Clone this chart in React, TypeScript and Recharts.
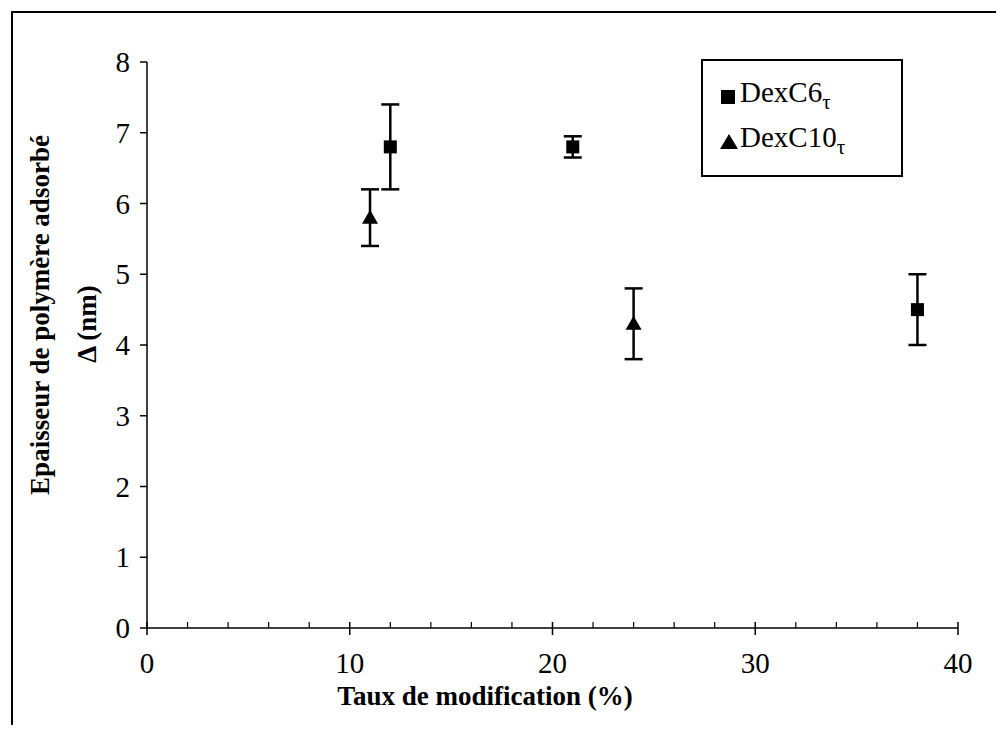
import React from "react";
import {
  ScatterChart,
  Scatter,
  XAxis,
  YAxis,
  ErrorBar,
  Label,
} from "recharts";

// DexC6τ series
const c6Rate = [12, 21, 38];
const c6Thick = [6.8, 6.8, 4.5];
const c6Err = [0.6, 0.15, 0.5];

// DexC10τ series
const c10Rate = [11, 24];
const c10Thick = [5.8, 4.3];
const c10Err = [0.4, 0.5];

const seriesNames = ["DexC6", "DexC10"];

const xTicks = [0, 2, 4, 6, 8, 10, 12, 14, 16, 18, 20, 22, 24, 26, 28, 30, 32, 34, 36, 38, 40];
const yTicks = [0, 1, 2, 3, 4, 5, 6, 7, 8];

const c6Data = c6Rate.map((x, i) => ({ x, y: c6Thick[i], err: c6Err[i] }));
const c10Data = c10Rate.map((x, i) => ({ x, y: c10Thick[i], err: c10Err[i] }));

const FONT = '"Times New Roman", "Liberation Serif", Times, "DejaVu Serif", serif';

const SquareDot = (props: any) => {
  const { cx, cy } = props;
  return <rect x={cx - 6.5} y={cy - 6.5} width={13} height={13} fill="#000" />;
};

const TriangleDot = (props: any) => {
  const { cx, cy } = props;
  return <path d={`M${cx},${cy - 8} L${cx + 8},${cy + 6} L${cx - 8},${cy + 6} Z`} fill="#000" />;
};

const XTick = (props: any) => {
  const { x, y, payload } = props;
  const v = payload.value;
  const major = v % 10 === 0;
  return (
    <g>
      {major ? (
        <line x1={x} x2={x} y1={y - 6} y2={y + 7} stroke="#000" strokeWidth={1.5} />
      ) : (
        <line x1={x} x2={x} y1={y} y2={y - 6} stroke="#000" strokeWidth={1.2} />
      )}
      {major && (
        <text x={x} y={y + 45} textAnchor="middle" fontFamily={FONT} fontSize={29} fill="#000">
          {v}
        </text>
      )}
    </g>
  );
};

const YTick = (props: any) => {
  const { x, y, payload } = props;
  return (
    <g>
      <line x1={x - 7} x2={x} y1={y} y2={y} stroke="#000" strokeWidth={1.5} />
      <text x={x - 17} y={y + 10} textAnchor="end" fontFamily={FONT} fontSize={29} fill="#000">
        {payload.value}
      </text>
    </g>
  );
};

const YTitle = () => (
  <g fontFamily={FONT} fontWeight="bold" fontSize={27} fill="#000">
    <text x={0} y={0} textAnchor="middle" transform="translate(49,315) rotate(-90)">
      Epaisseur de polymère adsorbé
    </text>
    <text x={0} y={0} textAnchor="middle" transform="translate(96,324) rotate(-90)">
      Δ (nm)
    </text>
  </g>
);

const XTitle = () => (
  <text x={485} y={705} textAnchor="middle" fontFamily={FONT} fontWeight="bold" fontSize={27} fill="#000">
    Taux de modification (%)
  </text>
);

const LegendBox = () => (
  <div
    style={{
      position: "absolute",
      left: 701,
      top: 59,
      width: 198,
      height: 114,
      border: "2px solid #000",
      background: "#fff",
      fontFamily: FONT,
      fontSize: 29,
      color: "#000",
    }}
  >
    {seriesNames.map((name, i) => (
      <div
        key={name}
        style={{ position: "absolute", left: 16, top: i === 0 ? 14 : 59, display: "flex", alignItems: "center", lineHeight: "34px", whiteSpace: "nowrap" }}
      >
        <svg width={20} height={20} style={{ marginRight: 1 }}>
          {i === 0 ? (
            <rect x={2} y={3} width={14} height={14} fill="#000" />
          ) : (
            <path d="M10,2 L19,17 L1,17 Z" fill="#000" />
          )}
        </svg>
        <span>
          {name}
          <sub style={{ fontSize: 21 }}>τ</sub>
        </span>
      </div>
    ))}
  </div>
);

export default function App() {
  return (
    <div style={{ position: "relative", width: 1004, height: 733, margin: -8, background: "#fff", overflow: "hidden" }}>
      <div
        style={{
          position: "absolute",
          left: 11,
          top: 11,
          width: 985,
          height: 730,
          border: "2px solid #000",
          borderBottom: "none",
        }}
      />
      <div style={{ position: "absolute", left: 0, top: 0 }}>
        <ScatterChart width={1004} height={733} margin={{ top: 62, right: 46, bottom: 0, left: 0 }}>
          <XAxis
            type="number"
            dataKey="x"
            domain={[0, 40]}
            ticks={xTicks}
            interval={0}
            tick={<XTick />}
            tickLine={false}
            tickSize={0}
            tickMargin={0}
            height={105}
            axisLine={{ stroke: "#000", strokeWidth: 1.5 }}
          >
            <Label content={<XTitle />} />
          </XAxis>
          <YAxis
            type="number"
            dataKey="y"
            domain={[0, 8]}
            ticks={yTicks}
            interval={0}
            tick={<YTick />}
            tickLine={false}
            tickSize={0}
            tickMargin={0}
            width={147}
            axisLine={{ stroke: "#000", strokeWidth: 1.5 }}
          >
            <Label content={<YTitle />} />
          </YAxis>
          <Scatter name="DexC6τ" data={c6Data} fill="#000" shape={<SquareDot />} isAnimationActive={false}>
            <ErrorBar dataKey="err" direction="y" width={9} stroke="#000" strokeWidth={2.5} />
          </Scatter>
          <Scatter name="DexC10τ" data={c10Data} fill="#000" shape={<TriangleDot />} isAnimationActive={false}>
            <ErrorBar dataKey="err" direction="y" width={9} stroke="#000" strokeWidth={2.5} />
          </Scatter>
        </ScatterChart>
      </div>
      <LegendBox />
    </div>
  );
}
